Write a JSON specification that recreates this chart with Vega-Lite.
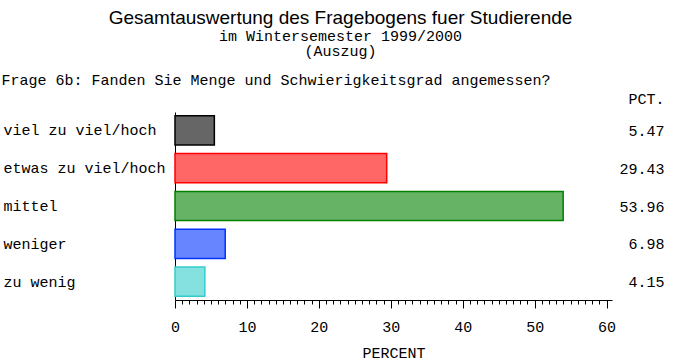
{
  "$schema": "https://vega.github.io/schema/vega-lite/v6.json",
  "autosize": "none",
  "padding": {"left": 175, "top": 112, "right": 73, "bottom": 64},
  "width": 437,
  "height": 188,
  "background": "white",
  "title": {
    "text": "Gesamtauswertung des Fragebogens fuer Studierende",
    "subtitle": ["im Wintersemester 1999/2000\u00a0", "(Auszug)\u00a0\u00a0\u00a0\u00a0\u00a0\u00a0\u00a0\u00a0\u00a0"],
    "anchor": "middle",
    "frame": "group",
    "dx": -53,
    "offset": 13,
    "font": "Liberation Sans",
    "fontSize": 19,
    "fontWeight": "normal",
    "color": "black",
    "subtitleFont": "Liberation Mono",
    "subtitleFontSize": 15,
    "subtitleColor": "black",
    "subtitleLineHeight": 15.5,
    "subtitlePadding": 1
  },
  "data": {
    "values": [
      {"cat": "viel zu viel/hoch", "pct": 5.47, "pctLabel": "5.47"},
      {"cat": "etwas zu viel/hoch", "pct": 29.43, "pctLabel": "29.43"},
      {"cat": "mittel", "pct": 53.96, "pctLabel": "53.96"},
      {"cat": "weniger", "pct": 6.98, "pctLabel": "6.98"},
      {"cat": "zu wenig", "pct": 4.15, "pctLabel": "4.15"}
    ]
  },
  "layer": [
    {
      "mark": {"type": "bar", "strokeWidth": 1.5},
      "encoding": {
        "y": {
          "field": "cat",
          "type": "nominal",
          "sort": null,
          "scale": {"paddingInner": 0.23, "paddingOuter": 0.1},
          "axis": {
            "orient": "left",
            "ticks": false,
            "tickSize": 0,
            "domain": true,
            "domainColor": "black",
            "domainWidth": 1,
            "labelAlign": "left",
            "labelBaseline": "middle",
            "labelPadding": 172,
            "labelLimit": 300,
            "labelFont": "Liberation Mono",
            "labelFontSize": 15,
            "labelColor": "black",
            "title": "Frage 6b: Fanden Sie Menge und Schwierigkeitsgrad angemessen?",
            "titleAngle": 0,
            "titleAlign": "left",
            "titleBaseline": "alphabetic",
            "titleX": -174,
            "titleY": -28,
            "titleFont": "Liberation Mono",
            "titleFontSize": 15,
            "titleFontWeight": "normal",
            "titleColor": "black"
          }
        },
        "x": {
          "field": "pct",
          "type": "quantitative",
          "scale": {"domain": [0, 60.75], "nice": false, "zero": true},
          "axis": {
            "orient": "bottom",
            "values": [0,1,2,3,4,5,6,7,8,9,10,11,12,13,14,15,16,17,18,19,20,21,22,23,24,25,26,27,28,29,30,31,32,33,34,35,36,37,38,39,40,41,42,43,44,45,46,47,48,49,50,51,52,53,54,55,56,57,58,59,60],
            "tickSize": {"condition": {"test": "datum.value % 10 === 0", "value": 8}, "value": 4},
            "tickColor": "black",
            "tickWidth": 1,
            "domainColor": "black",
            "labelExpr": "datum.value % 10 === 0 ? datum.label : ''",
            "labelOverlap": false,
            "labelFlush": false,
            "labelBaseline": "alphabetic",
            "labelPadding": 23.5,
            "labelFont": "Liberation Mono",
            "labelFontSize": 15,
            "labelColor": "black",
            "title": "PERCENT",
            "titleFont": "Liberation Mono",
            "titleFontSize": 15,
            "titleFontWeight": "normal",
            "titleColor": "black",
            "titleBaseline": "alphabetic",
            "titleY": 57
          }
        },
        "fill": {
          "field": "cat",
          "type": "nominal",
          "scale": {
            "domain": ["viel zu viel/hoch", "etwas zu viel/hoch", "mittel", "weniger", "zu wenig"],
            "range": ["#666666", "#ff6666", "#66b366", "#6685ff", "#85e0e0"]
          },
          "legend": null
        },
        "stroke": {
          "field": "cat",
          "type": "nominal",
          "scale": {
            "domain": ["viel zu viel/hoch", "etwas zu viel/hoch", "mittel", "weniger", "zu wenig"],
            "range": ["#000000", "#ff0000", "#008000", "#0033ff", "#33cccc"]
          },
          "legend": null
        }
      }
    },
    {
      "mark": {"type": "text", "opacity": 0},
      "encoding": {
        "y": {
          "field": "pctLabel",
          "type": "nominal",
          "sort": null,
          "scale": {"paddingInner": 0.23, "paddingOuter": 0.1},
          "axis": {
            "orient": "right",
            "ticks": false,
            "tickSize": 0,
            "domain": false,
            "labelAlign": "right",
            "labelBaseline": "middle",
            "labelPadding": 52,
            "labelFont": "Liberation Mono",
            "labelFontSize": 15,
            "labelColor": "black",
            "title": "PCT.",
            "titleAngle": 0,
            "titleAlign": "right",
            "titleBaseline": "alphabetic",
            "titleX": 52,
            "titleY": -9,
            "titleFont": "Liberation Mono",
            "titleFontSize": 15,
            "titleFontWeight": "normal",
            "titleColor": "black"
          }
        },
        "text": {"value": ""}
      }
    }
  ],
  "resolve": {"scale": {"y": "independent"}, "axis": {"y": "independent"}},
  "config": {
    "view": {"stroke": null},
    "axis": {"grid": false}
  }
}
